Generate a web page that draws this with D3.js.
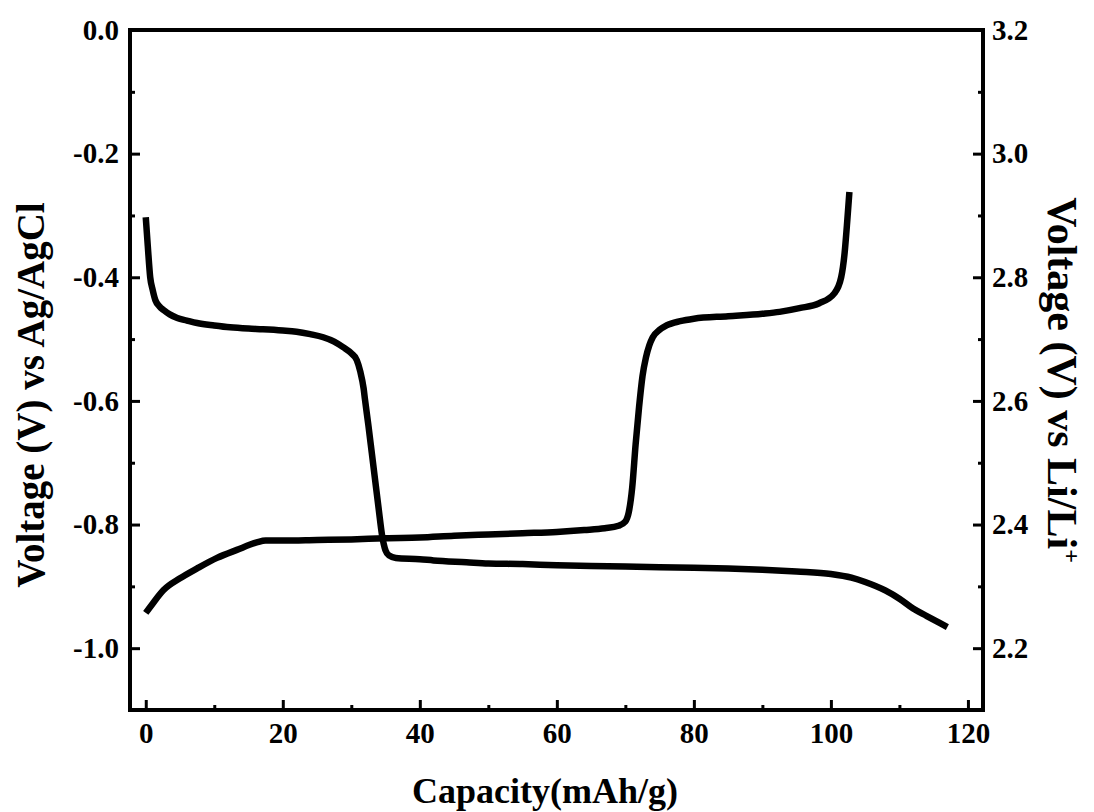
<!DOCTYPE html>
<html>
<head>
<meta charset="utf-8">
<script src="https://cdn.jsdelivr.net/npm/d3@7"></script>
<style>
  html, body { margin: 0; padding: 0; background: #fff; }
  svg { display: block; }
  .tick text { font-family: "Liberation Serif", "Times New Roman", serif; font-weight: bold; font-size: 29px; fill: #000; }
  .tick line { stroke: #000; stroke-width: 3; }
  .title { font-family: "Liberation Serif", "Times New Roman", serif; font-weight: bold; fill: #000; }
</style>
</head>
<body>
<div id="chart"></div>
<script>
// Discharge curve (starts near -0.30 V and ends at -0.97 V)
const capDischarge = [0, 0.3, 0.65, 1.0, 1.4, 2.0, 2.6, 3.5, 4.6, 6, 7.5, 10, 12.3, 15, 17.1, 20, 22, 24, 25.9, 27.5, 28.8, 30, 30.8, 31.3, 31.8, 32.0, 32.5, 33.0, 33.5, 34.0, 34.5, 35.0, 35.5, 36.5, 40, 42, 46.8, 50, 55, 60, 65, 70, 75, 80, 85, 90, 95, 100, 103, 105, 108, 110, 112, 114, 116, 117];
const voltDischarge = [-0.303, -0.35, -0.40, -0.42, -0.437, -0.447, -0.453, -0.46, -0.466, -0.47, -0.474, -0.478, -0.481, -0.483, -0.484, -0.486, -0.488, -0.492, -0.497, -0.504, -0.513, -0.523, -0.534, -0.552, -0.58, -0.598, -0.64, -0.685, -0.73, -0.775, -0.818, -0.842, -0.85, -0.854, -0.856, -0.858, -0.861, -0.863, -0.864, -0.866, -0.867, -0.868, -0.869, -0.870, -0.871, -0.873, -0.876, -0.880, -0.886, -0.893, -0.907, -0.92, -0.936, -0.948, -0.96, -0.966];

// Charge curve (starts near -0.94 V and ends at -0.26 V)
const capCharge = [0, 1, 2.6, 5, 7.5, 10.4, 13.3, 16.2, 17.5, 20, 25, 30, 35, 40, 45, 50, 55, 60, 64, 67, 69, 70, 70.5, 71, 71.5, 72, 72.5, 73, 73.5, 74, 75, 76, 78, 80, 85, 90, 92.5, 95.4, 98.3, 100.5, 101.5, 102, 102.4, 102.7];
const voltCharge = [-0.943, -0.928, -0.906, -0.887, -0.871, -0.854, -0.841, -0.829, -0.826, -0.826, -0.825, -0.824, -0.822, -0.821, -0.818, -0.816, -0.814, -0.812, -0.809, -0.806, -0.802, -0.795, -0.78, -0.74, -0.67, -0.61, -0.56, -0.53, -0.51, -0.497, -0.485, -0.478, -0.471, -0.467, -0.463, -0.459, -0.456, -0.45, -0.442, -0.426, -0.40, -0.361, -0.307, -0.262];

const xTicks = [0, 20, 40, 60, 80, 100, 120];
const xMinor = [10, 30, 50, 70, 90, 110];
const yLeftTicks = [0.0, -0.2, -0.4, -0.6, -0.8, -1.0];
const yLeftMinor = [-0.1, -0.3, -0.5, -0.7, -0.9];
const yRightTicks = [3.2, 3.0, 2.8, 2.6, 2.4, 2.2];
const yRightMinor = [3.1, 2.9, 2.7, 2.5, 2.3];

const width = 1094, height = 812;
const plot = { left: 130, right: 983, top: 30, bottom: 710 };

const svg = d3.select("#chart").append("svg")
  .attr("width", width)
  .attr("height", height);

const x = d3.scaleLinear().domain([-2.3, 122.2]).range([plot.left, plot.right]);
const y = d3.scaleLinear().domain([-1.1, 0]).range([plot.bottom, plot.top]);
const y2 = d3.scaleLinear().domain([2.1, 3.2]).range([plot.bottom, plot.top]);

// Bottom axis
svg.append("g").attr("transform", `translate(0,${plot.bottom})`)
  .call(d3.axisBottom(x).tickValues(xTicks).tickSize(-10).tickPadding(12).tickFormat(d3.format("d")));
svg.append("g").attr("transform", `translate(0,${plot.bottom})`)
  .call(d3.axisBottom(x).tickValues(xMinor).tickSize(-5).tickFormat(""));

// Left axis
svg.append("g").attr("transform", `translate(${plot.left},0)`)
  .call(d3.axisLeft(y).tickValues(yLeftTicks).tickSize(-10).tickPadding(11).tickFormat(d3.format(".1f")));
svg.append("g").attr("transform", `translate(${plot.left},0)`)
  .call(d3.axisLeft(y).tickValues(yLeftMinor).tickSize(-5).tickFormat(""));

// Right axis
svg.append("g").attr("transform", `translate(${plot.right},0)`)
  .call(d3.axisRight(y2).tickValues(yRightTicks).tickSize(-10).tickPadding(9).tickFormat(d3.format(".1f")));
svg.append("g").attr("transform", `translate(${plot.right},0)`)
  .call(d3.axisRight(y2).tickValues(yRightMinor).tickSize(-5).tickFormat(""));

svg.selectAll(".domain").remove();
svg.selectAll(".tick text").text(function () { return this.textContent.replace("−", "-"); });

// Frame
svg.append("rect")
  .attr("x", plot.left)
  .attr("y", plot.top)
  .attr("width", plot.right - plot.left)
  .attr("height", plot.bottom - plot.top)
  .attr("fill", "none")
  .attr("stroke", "#000")
  .attr("stroke-width", 4);

// Curves
const line = d3.line()
  .x((d) => x(d[0]))
  .y((d) => y(d[1]))
  .curve(d3.curveMonotoneX);

const series = [
  d3.zip(capDischarge, voltDischarge),
  d3.zip(capCharge, voltCharge),
];

svg.append("g")
  .selectAll("path")
  .data(series)
  .join("path")
  .attr("d", line)
  .attr("fill", "none")
  .attr("stroke", "#000")
  .attr("stroke-width", 6.5)
  .attr("stroke-linejoin", "round")
  .attr("stroke-linecap", "butt");

// Axis titles
svg.append("text")
  .attr("class", "title")
  .attr("font-size", "36px")
  .attr("x", 545)
  .attr("y", 803)
  .attr("text-anchor", "middle")
  .text("Capacity(mAh/g)");

svg.append("text")
  .attr("class", "title")
  .attr("font-size", "39px")
  .attr("transform", "translate(44,395) rotate(-90)")
  .attr("text-anchor", "middle")
  .text("Voltage (V) vs Ag/AgCl");

const rt = svg.append("text")
  .attr("class", "title")
  .attr("font-size", "42px")
  .attr("transform", "translate(1048,380) rotate(90)")
  .attr("text-anchor", "middle");
rt.append("tspan").text("Voltage (V) vs Li/Li");
rt.append("tspan").attr("font-size", "24px").attr("dy", "-16").text("+");
</script>
</body>
</html>
